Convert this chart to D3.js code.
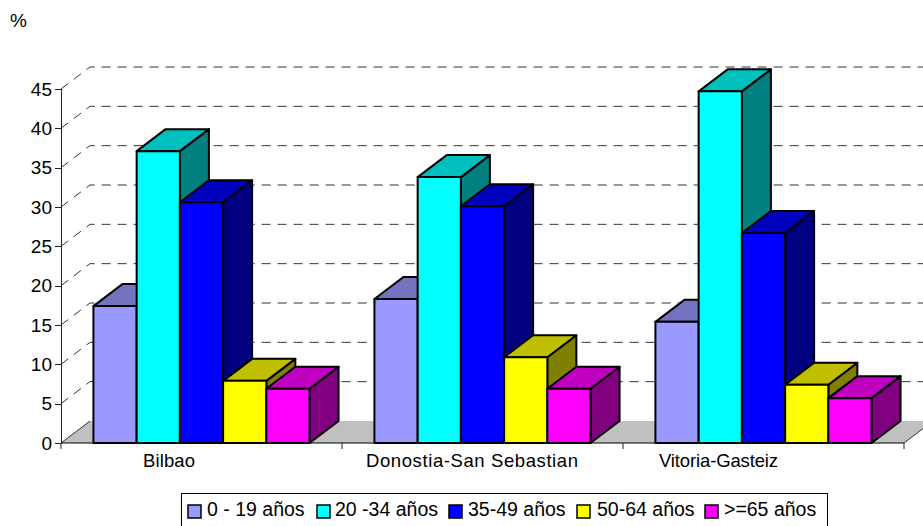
<!DOCTYPE html>
<html><head><meta charset="utf-8">
<script src="https://cdn.jsdelivr.net/npm/d3@7"></script>
<style>html,body{margin:0;padding:0;background:#fff;overflow:hidden}
text{font-family:"Liberation Sans",Arial,sans-serif;fill:#000}</style></head>
<body><div id="c"></div>
<script>
const categories = ["Bilbao","Donostia-San Sebastian","Vitoria-Gasteiz"];
const seriesNames = ["0 - 19 años","20 -34 años","35-49 años","50-64 años",">=65 años"];
const v0019 = [17.4,18.3,15.4];
const v2034 = [37.1,33.8,44.7];
const v3549 = [30.6,30.1,26.7];
const v5064 = [7.9,10.9,7.4];
const v65 = [6.9,6.9,5.7];
const seriesValues = [v0019,v2034,v3549,v5064,v65];
const colors = ["#9999ff","#00ffff","#0000ff","#ffff00","#ff00ff"];
const yTicks = [0,5,10,15,20,25,30,35,40,45];
const labelShift = [-32.5,-10.5,-45];
const labelLen = [52,212,119];

const W=923,H=526, x0=61,x1=904,y0=443,y45=89,dx=29,dy=22;
const svg=d3.select("#c").append("svg").attr("width",W).attr("height",H).style("display","block");
const y=d3.scaleLinear().domain([0,45]).range([y0,y45]);
const xCat=d3.scaleBand().domain(categories).range([x0,x1]);
const xSer=d3.scaleBand().domain(seriesNames).range([0,xCat.bandwidth()]).paddingOuter(0.75).paddingInner(0);
const line=d3.line();
const shade=(c,k)=>{const r=d3.rgb(c);return d3.rgb(r.r*k,r.g*k,r.b*k).formatHex();};

// floor
svg.append("path").attr("d",line([[x0,y0],[x0+dx,y0-dy],[x1+dx,y0-dy],[x1,y0]])+"Z")
  .attr("fill","#c0c0c0").attr("stroke","none");
svg.append("path").attr("d",line([[x0,y0],[x0+dx,y0-dy]])).attr("stroke","#333").attr("fill","none");
svg.append("path").attr("d",line([[x1,y0],[x1+dx,y0-dy]])).attr("stroke","#333").attr("fill","none");

// gridlines
svg.append("g").selectAll("path").data(yTicks.filter(t=>t>0)).join("path")
  .attr("d",t=>line([[x0,y(t)],[x0+dx,y(t)-dy],[x1+dx,y(t)-dy]]))
  .attr("fill","none").attr("stroke","#333").attr("stroke-dasharray","9 7");

// axes
const axisY=d3.axisLeft(y).tickValues(yTicks).tickSize(6).tickPadding(3);
const gy=svg.append("g").attr("transform",`translate(${x0},0)`).call(axisY);
gy.selectAll("path,line").attr("stroke","#222").attr("shape-rendering","crispEdges");
gy.selectAll("text").attr("font-size",19).attr("font-family",'"Liberation Sans"').attr("fill","#000");

const gx=svg.append("g");
gx.append("line").attr("x1",x0).attr("x2",x1).attr("y1",y0).attr("y2",y0).attr("stroke","#000");
gx.selectAll(".t").data([...categories.map(c=>xCat(c)),x1]).join("line").attr("class","t")
  .attr("x1",d=>d).attr("x2",d=>d).attr("y1",y0).attr("y2",y0+6).attr("stroke","#222");
gx.selectAll("text").data(categories).join("text")
  .attr("x",(c,i)=>xCat(c)+xCat.bandwidth()/2+labelShift[i]).attr("y",467)
  .attr("text-anchor","middle").attr("font-size",18.5)
  .attr("textLength",(c,i)=>labelLen[i]).attr("lengthAdjust","spacing").text(c=>c);

// 3D bars
categories.forEach((c,ci)=>{
  seriesNames.forEach((s,si)=>{
    const xl=xCat(c)+xSer(s), xr=xl+xSer.bandwidth(), top=y(seriesValues[si][ci]);
    const g=svg.append("g").attr("stroke","#000").attr("stroke-width",2).attr("stroke-linejoin","round");
    g.append("path").attr("d",line([[xr,top],[xr+dx,top-dy],[xr+dx,y0-dy],[xr,y0]])+"Z").attr("fill",shade(colors[si],.5));
    g.append("path").attr("d",line([[xl,top],[xl+dx,top-dy],[xr+dx,top-dy],[xr,top]])+"Z").attr("fill",shade(colors[si],.75));
    g.append("rect").attr("x",xl).attr("y",top).attr("width",xr-xl).attr("height",y0-top).attr("fill",colors[si]);
  });
});

// unit
svg.append("text").attr("x",10).attr("y",27).attr("font-size",19).text("%");

// legend (box runs off the bottom of the picture)
const lg=svg.append("g");
lg.append("rect").attr("x",181.5).attr("y",493.5).attr("width",646).attr("height",60).attr("fill","#fff").attr("stroke","#000");
const swatchX=[188,317,449,577,705];
const textX=[207,335,468,597,724];
seriesNames.forEach((s,i)=>{
  lg.append("rect").attr("x",swatchX[i]).attr("y",505).attr("width",13).attr("height",13).attr("fill",colors[i]).attr("stroke","#000").attr("stroke-width",1.5);
  lg.append("text").attr("x",textX[i]).attr("y",516).attr("font-size",19.5).text(s);
});
</script></body></html>
